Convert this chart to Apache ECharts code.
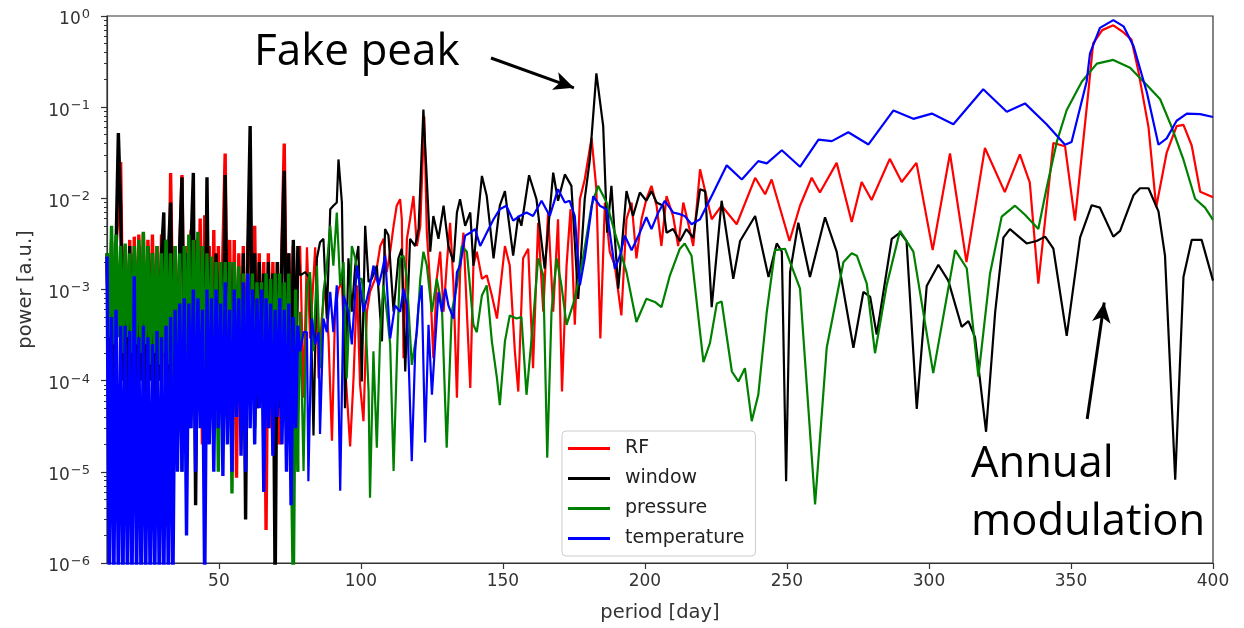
<!DOCTYPE html>
<html><head><meta charset="utf-8">
<script src="https://cdn.jsdelivr.net/npm/echarts@6.0.0/dist/echarts.min.js"></script>
<style>html,body{margin:0;padding:0;background:#fff}#chart{width:1244px;height:628px}</style>
</head><body><div id="chart"></div>
<script>
const seriesNames = ['RF', 'window', 'pressure', 'temperature'];
const seriesColors = ['#ff0000', '#000000', '#008000', '#0000ff'];
const xTicks = [50, 100, 150, 200, 250, 300, 350, 400];

// dense short-period part, shared periods (day)
const periodDense = [10.6, 11.4, 12.2, 13.0, 13.8, 14.6, 15.4, 16.2, 17.0, 17.8, 18.6, 19.4, 20.2, 21.0, 21.8, 22.6, 23.4, 24.2, 25.0, 25.8, 26.6, 27.4, 28.2, 29.0, 29.8, 30.6, 31.4, 32.2, 33.0, 33.8, 34.6, 35.4, 36.2, 37.0, 37.8, 38.6, 39.4, 40.2, 41.0, 41.8, 42.6, 43.4, 44.2, 45.0, 45.8, 46.6, 47.4, 48.2, 49.0, 49.8, 50.6, 51.4, 52.2, 53.0, 53.8, 54.6, 55.4, 56.2, 57.0, 57.8, 58.6, 59.4, 60.2, 61.0, 61.8, 62.6, 63.4, 64.2, 65.0, 65.8, 66.6, 67.4, 68.2, 69.0, 69.8, 70.6, 71.4, 72.2, 73.0, 73.8, 74.6, 75.4, 76.2, 77.0, 77.8];

const rfDense = [2.0e-3, 1.5e-4, 2.5e-3, 1.0e-4, 3.0e-3, 8.0e-3, 0.025, 2.0e-4, 3.0e-3, 1.2e-4, 3.5e-3, 2.5e-6, 3.8e-3, 1.5e-4, 4.0e-3, 2.0e-4, 4.2e-3, 1.0e-4, 3.5e-3, 2.0e-4, 4.0e-3, 1.5e-4, 3.0e-3, 1.2e-4, 4.0e-3, 2.0e-4, 3.5e-3, 1.5e-4, 0.019, 3.0e-4, 3.0e-3, 1.0e-4, 2.5e-3, 0.018, 2.0e-4, 3.0e-3, 1.5e-4, 4.5e-3, 2.0e-4, 3.5e-3, 1.0e-4, 6.0e-3, 2.0e-5, 6.5e-3, 1.5e-4, 3.0e-3, 4.0e-5, 4.5e-3, 3.0e-5, 3.0e-3, 6.0e-5, 2.5e-3, 0.031, 1.0e-4, 3.5e-3, 2.0e-5, 3.5e-3, 8.6e-6, 2.5e-3, 1.0e-4, 3.0e-3, 4.0e-5, 2.5e-3, 8.0e-3, 3.0e-4, 5.0e-3, 5.0e-5, 2.5e-3, 1.0e-4, 2.0e-3, 2.3e-6, 2.5e-3, 3.0e-5, 2.0e-3, 1.0e-4, 2.0e-3, 2.0e-5, 3.0e-3, 0.04, 3.0e-4, 2.5e-3, 5.0e-5, 3.0e-3, 1.0e-4, 2.5e-3];
const windowDense = [2.5e-3, 1.0e-4, 3.3e-3, 8.0e-5, 3.0e-3, 0.052, 8.0e-3, 1.0e-4, 2.5e-3, 5.0e-5, 3.0e-3, 1.0e-4, 2.5e-3, 6.0e-5, 3.0e-3, 1.0e-4, 2.0e-3, 5.0e-5, 3.0e-3, 1.0e-4, 2.5e-3, 4.0e-5, 2.0e-3, 1.0e-4, 2.5e-3, 7.0e-3, 6.0e-6, 2.5e-3, 9.0e-3, 1.0e-4, 2.0e-3, 5.0e-5, 3.0e-3, 0.017, 1.0e-4, 2.5e-3, 3.0e-5, 3.0e-3, 0.019, 4.3e-6, 2.5e-3, 1.0e-4, 3.0e-3, 5.0e-5, 0.017, 1.0e-4, 2.0e-3, 3.0e-5, 2.5e-3, 1.0e-4, 2.0e-3, 5.0e-5, 0.018, 2.0e-4, 2.0e-3, 3.0e-5, 2.0e-3, 1.0e-4, 1.5e-3, 3.0e-5, 2.5e-3, 3.0e-6, 3.0e-3, 0.062, 2.0e-4, 2.5e-3, 5.0e-5, 2.0e-3, 1.0e-4, 1.5e-3, 4.0e-5, 2.0e-3, 1.0e-4, 1.5e-3, 5.0e-7, 2.0e-3, 5.0e-5, 2.5e-3, 0.02, 1.0e-4, 2.5e-3, 3.0e-5, 3.5e-3, 1.0e-4, 3.0e-3];
const pressureDense = [2.5e-3, 3.0e-4, 5.0e-3, 2.5e-4, 4.0e-3, 3.0e-4, 3.0e-3, 2.0e-4, 3.2e-3, 3.0e-4, 2.5e-3, 2.0e-4, 3.0e-3, 2.5e-4, 3.5e-3, 2.0e-4, 4.3e-3, 2.5e-4, 3.0e-3, 1.5e-4, 2.5e-3, 2.0e-4, 3.0e-3, 1.5e-4, 2.5e-3, 2.0e-4, 3.5e-3, 1.5e-4, 2.5e-3, 1.0e-4, 3.0e-3, 8.0e-5, 2.5e-3, 1.0e-5, 3.0e-3, 1.5e-4, 4.0e-3, 5.0e-5, 3.5e-3, 2.0e-4, 4.3e-3, 1.0e-4, 3.0e-3, 4.0e-5, 2.5e-3, 1.0e-4, 2.3e-3, 3.0e-5, 2.0e-3, 1.0e-5, 2.0e-3, 1.0e-4, 2.0e-3, 5.0e-5, 2.0e-3, 5.8e-6, 2.0e-3, 1.0e-4, 1.8e-3, 3.0e-5, 1.5e-3, 4.0e-5, 1.5e-3, 1.0e-4, 1.5e-3, 3.0e-5, 1.2e-3, 1.0e-4, 1.2e-3, 2.0e-5, 1.5e-3, 1.0e-4, 1.3e-3, 4.0e-5, 1.5e-3, 1.0e-4, 1.5e-3, 5.0e-5, 1.2e-3, 1.0e-4, 1.5e-3, 3.0e-5, 5.0e-7, 1.0e-3, 1.0e-5];
const temperatureDense = [2.3e-3, 5.0e-7, 5.0e-4, 5.0e-7, 6.0e-4, 5.0e-7, 4.0e-4, 5.0e-7, 4.0e-4, 5.0e-7, 3.5e-4, 5.0e-7, 1.4e-3, 5.0e-7, 3.0e-4, 5.0e-7, 4.0e-4, 5.0e-7, 3.0e-4, 5.0e-7, 2.5e-4, 5.0e-7, 3.5e-4, 5.0e-7, 3.0e-4, 5.0e-7, 4.0e-4, 5.0e-7, 5.0e-4, 5.0e-7, 6.0e-4, 1.0e-5, 7.0e-4, 1.0e-5, 8.0e-4, 2.0e-6, 7.0e-4, 3.0e-5, 1.0e-3, 1.0e-5, 8.0e-4, 3.0e-5, 6.0e-4, 5.0e-7, 1.0e-3, 2.0e-5, 8.0e-4, 1.0e-5, 1.0e-3, 3.0e-5, 7.0e-4, 9.0e-6, 1.2e-3, 2.0e-5, 6.0e-4, 1.0e-5, 1.0e-3, 4.0e-5, 8.0e-4, 1.5e-5, 1.2e-3, 1.0e-5, 1.5e-3, 3.0e-5, 1.0e-3, 2.0e-5, 8.0e-4, 5.0e-5, 1.0e-3, 6.0e-6, 8.0e-4, 3.0e-5, 7.0e-4, 1.5e-5, 6.0e-4, 4.0e-5, 8.0e-4, 2.0e-5, 6.0e-4, 1.0e-5, 7.0e-4, 4.3e-6, 5.0e-4, 3.0e-5, 4.0e-4];

// longer-period part, each series with its own periods
const rfPeriods = [78.6, 79.8, 81.0, 82.1, 83.9, 85.1, 86.2, 87.4, 88.6, 89.8, 90.9, 92.1, 93.3, 94.4, 96.2, 97.4, 98.6, 99.7, 100.9, 102.1, 103.2, 105.0, 106.8, 108.0, 109.1, 110.3, 111.5, 112.6, 113.8, 114.4, 115.0, 116.2, 117.3, 118.5, 119.7, 120.9, 122.3, 123.2, 124.4, 125.5, 126.7, 127.9, 129.1, 130.2, 131.4, 132.6, 133.8, 134.9, 136.1, 137.3, 138.5, 139.6, 140.8, 142.6, 144.3, 146.1, 147.9, 150.7, 152.4, 154.2, 155.4, 157.1, 158.9, 160.6, 162.4, 164.2, 165.9, 167.7, 169.4, 170.8, 172.4, 173.8, 175.3, 177.1, 178.8, 181.2, 182.9, 184.3, 185.9, 187.6, 189.4, 191.7, 193.5, 195.3, 197.0, 198.8, 200.5, 202.3, 204.1, 205.8, 207.6, 209.9, 211.7, 213.5, 215.2, 217.0, 219.4, 223.5, 227.0, 232.3, 238.8, 242.3, 244.6, 250.9, 254.6, 258.7, 261.6, 267.5, 272.8, 276.3, 279.8, 286.2, 290.4, 295.6, 301.3, 307.4, 313.2, 319.7, 326.7, 332.0, 335.5, 338.5, 343.8, 347.9, 351.4, 356.1, 357.8, 361.0, 364.9, 368.5, 371.3, 373.7, 377.3, 380.0, 383.7, 387.2, 389.6, 392.5, 395.5, 400.0];
const rfValues = [3.0e-3, 6.5e-5, 2.9e-3, 2.9e-4, 2.9e-3, 1.06e-4, 4.8e-4, 1.11e-3, 2.9e-4, 2.2e-5, 5.7e-4, 1.02e-3, 1.21e-3, 1.49e-4, 1.9e-5, 1.06e-4, 1.11e-3, 9.0e-5, 3.6e-5, 5.7e-4, 9.4e-4, 1.31e-3, 3.0e-3, 3.6e-3, 1.55e-3, 2.6e-3, 5.0e-3, 8.3e-3, 9.8e-3, 5.9e-3, 1.76e-4, 3.6e-3, 5.9e-3, 0.0106, 3.0e-3, 5.0e-3, 0.079, 4.2e-3, 1.11e-3, 1.76e-4, 1.31e-3, 2.6e-3, 5.7e-4, 1.83e-3, 5.4e-3, 1.11e-3, 6.5e-5, 1.55e-3, 4.2e-3, 5.7e-4, 8.3e-5, 1.83e-3, 2.6e-3, 1.31e-3, 1.43e-3, 8.6e-4, 4.8e-4, 3.0e-3, 1.83e-3, 2.1e-4, 7.6e-5, 2.2e-3, 2.8e-3, 1.37e-4, 5.4e-3, 5.7e-4, 7.0e-3, 5.7e-4, 5.9e-3, 7.6e-5, 1.83e-3, 7.6e-3, 4.1e-4, 9.8e-3, 0.0161, 0.046, 0.0126, 2.9e-4, 9.0e-3, 2.6e-3, 1.83e-3, 5.2e-4, 5.9e-3, 9.0e-3, 2.2e-3, 5.9e-3, 9.8e-3, 0.0137, 8.3e-3, 3.0e-3, 0.0106, 6.4e-3, 3.0e-3, 9.0e-3, 5.4e-3, 3.0e-3, 0.0208, 5.9e-3, 8.3e-3, 5.2e-3, 0.0168, 0.0111, 0.0161, 3.4e-3, 8.3e-3, 0.0168, 0.0116, 0.0245, 5.5e-3, 0.0151, 9.6e-3, 0.0271, 0.0151, 0.0245, 2.7e-3, 0.031, 2.0e-3, 0.0357, 0.0117, 0.0303, 0.0149, 1.16e-3, 0.0405, 0.0373, 5.7e-3, 0.146, 0.50, 0.70, 0.79, 0.66, 0.55, 0.25, 0.06, 8.0e-3, 0.0318, 0.062, 0.064, 0.038, 0.0118, 0.0103];

const windowPeriods = [78.6, 80.4, 82.1, 83.3, 84.5, 85.6, 86.8, 88.0, 89.2, 90.3, 91.5, 92.1, 93.3, 94.4, 95.6, 96.8, 98.0, 99.1, 100.3, 101.5, 102.7, 103.8, 105.6, 107.4, 108.5, 109.7, 111.5, 113.2, 114.4, 115.6, 117.3, 119.1, 120.3, 122.0, 123.2, 124.4, 125.5, 127.3, 129.1, 130.8, 132.6, 133.8, 134.9, 136.7, 138.5, 139.6, 140.8, 142.6, 144.3, 146.7, 148.9, 150.7, 153.6, 155.4, 156.5, 159.2, 161.8, 164.7, 167.7, 169.4, 171.8, 174.1, 176.5, 178.8, 180.6, 182.9, 185.3, 186.7, 188.2, 190.6, 193.5, 195.8, 198.2, 200.5, 202.3, 204.1, 206.4, 207.6, 209.9, 212.3, 214.6, 217.0, 219.4, 221.2, 223.5, 227.0, 231.1, 233.5, 238.8, 243.5, 246.4, 248.2, 249.7, 251.1, 254.0, 258.1, 263.4, 267.5, 273.4, 276.9, 279.3, 281.6, 286.9, 289.8, 292.1, 295.7, 299.2, 303.3, 306.8, 311.5, 313.9, 316.2, 320.1, 323.3, 326.2, 328.5, 334.4, 337.9, 340.9, 343.8, 348.5, 353.2, 357.3, 360.2, 364.9, 367.3, 372.0, 374.3, 377.3, 380.8, 383.1, 386.7, 389.6, 392.5, 396.0, 400.0];
const windowValues = [1.43e-3, 1.55e-3, 1.31e-3, 2.5e-5, 2.2e-3, 3.3e-3, 3.6e-3, 4.8e-4, 7.6e-3, 8.3e-3, 9.0e-3, 0.0267, 9.0e-3, 5.0e-5, 2.2e-3, 5.7e-4, 1.83e-3, 3.0e-3, 9.8e-5, 5.0e-3, 1.21e-3, 1.31e-3, 1.83e-3, 2.7e-4, 4.6e-3, 3.9e-3, 5.7e-4, 2.2e-3, 2.8e-3, 1.26e-4, 3.6e-3, 3.0e-3, 4.6e-3, 0.094, 0.0161, 2.6e-3, 6.4e-3, 3.6e-3, 8.3e-3, 3.0e-3, 2.0e-3, 7.0e-3, 9.8e-3, 5.0e-3, 7.0e-3, 1.83e-3, 4.6e-3, 0.0176, 0.0106, 2.2e-3, 8.3e-3, 0.012, 2.35e-3, 6.4e-3, 5.0e-3, 0.0179, 9.8e-3, 1.69e-3, 0.0191, 9.4e-3, 0.0183, 0.0137, 7.9e-4, 9.8e-3, 0.0267, 0.235, 0.062, 4.2e-3, 0.0137, 1.02e-3, 0.012, 6.4e-3, 0.0116, 9.4e-3, 0.012, 9.0e-3, 8.3e-3, 4.2e-3, 4.6e-3, 3.4e-3, 4.6e-3, 3.7e-3, 0.0126, 0.012, 6.4e-4, 9.4e-3, 1.31e-3, 3.4e-3, 6.4e-3, 1.37e-3, 3.2e-3, 2.6e-3, 7.9e-6, 1.55e-3, 5.4e-3, 1.37e-3, 6.2e-3, 2.6e-3, 2.3e-4, 9.4e-4, 8.3e-4, 3.2e-4, 3.6e-3, 4.2e-3, 3.4e-3, 4.9e-5, 1.09e-3, 1.87e-3, 1.25e-3, 3.9e-4, 4.5e-4, 3.0e-4, 2.75e-5, 5.6e-4, 3.7e-3, 4.6e-3, 3.2e-3, 3.4e-3, 3.8e-3, 2.8e-3, 3.1e-4, 3.7e-3, 8.4e-3, 7.9e-3, 3.8e-3, 4.4e-3, 0.0108, 0.0129, 0.0129, 7.2e-3, 2.35e-3, 8.2e-6, 1.37e-3, 3.5e-3, 3.5e-3, 1.25e-3];

const pressurePeriods = [78.6, 79.8, 81.0, 82.1, 83.3, 84.5, 85.6, 86.8, 88.0, 89.2, 90.3, 91.5, 92.7, 93.9, 95.0, 96.2, 96.8, 98.0, 99.1, 100.3, 101.5, 102.7, 103.2, 104.4, 105.6, 106.8, 107.9, 109.1, 110.3, 111.5, 112.6, 113.8, 115.0, 116.2, 117.9, 119.7, 120.9, 122.0, 123.2, 125.0, 126.7, 128.5, 130.2, 132.0, 133.8, 135.5, 137.3, 139.6, 140.8, 142.6, 144.3, 146.1, 147.9, 148.9, 150.7, 152.4, 154.8, 156.5, 158.3, 160.6, 162.4, 164.2, 165.6, 167.1, 168.9, 170.6, 172.4, 175.3, 178.2, 181.2, 183.5, 186.5, 189.4, 193.5, 197.0, 200.5, 203.5, 205.8, 208.8, 212.3, 214.0, 216.4, 219.4, 220.6, 222.9, 225.3, 227.0, 230.6, 232.9, 235.2, 237.6, 239.9, 242.9, 245.8, 249.3, 254.6, 259.9, 264.0, 269.9, 272.8, 274.6, 278.1, 281.0, 285.1, 289.8, 294.5, 301.5, 309.2, 313.3, 317.4, 321.5, 325.6, 330.3, 333.8, 338.5, 341.4, 345.0, 348.5, 353.8, 359.1, 364.9, 370.8, 376.7, 381.4, 385.5, 389.6, 393.7, 397.2, 400.0];
const pressureValues = [5.7e-4, 1.02e-5, 1.11e-3, 1.55e-3, 2.1e-4, 1.83e-3, 1.37e-4, 9.4e-4, 1.83e-3, 5.0e-3, 1.83e-3, 7.0e-3, 1.11e-3, 2.0e-3, 1.06e-4, 8.6e-4, 3.0e-3, 2.2e-3, 1.31e-3, 1.31e-3, 5.7e-4, 7.6e-5, 5.2e-6, 2.1e-4, 1.84e-5, 3.4e-4, 1.11e-3, 5.7e-4, 2.5e-4, 1.02e-5, 1.49e-4, 2.2e-3, 2.35e-3, 1.31e-3, 1.49e-4, 3.4e-4, 1.31e-3, 2.6e-3, 1.83e-3, 5.7e-4, 1.31e-3, 6.7e-4, 1.84e-5, 5.7e-4, 1.11e-3, 3.0e-3, 2.6e-3, 4.1e-4, 3.4e-4, 8.6e-4, 1.11e-3, 2.7e-4, 1.06e-4, 5.4e-5, 2.7e-4, 5.2e-4, 4.8e-4, 5.0e-4, 7.0e-5, 4.4e-4, 2.2e-3, 1.43e-3, 1.43e-5, 5.7e-4, 2.2e-3, 1.11e-3, 4.1e-4, 7.9e-4, 2.2e-3, 8.3e-3, 0.0137, 9.0e-3, 4.2e-3, 1.55e-3, 4.4e-4, 7.9e-4, 7.3e-4, 6.4e-4, 1.43e-3, 2.8e-3, 3.2e-3, 2.35e-3, 3.4e-4, 1.6e-4, 2.6e-4, 7.0e-4, 7.4e-4, 1.26e-4, 9.8e-5, 1.37e-4, 3.6e-5, 7.0e-5, 5.7e-4, 2.7e-3, 2.8e-3, 1.02e-3, 4.4e-6, 2.3e-4, 2.0e-3, 2.5e-3, 2.35e-3, 1.16e-3, 2.0e-4, 1.11e-3, 4.4e-3, 2.6e-3, 1.21e-4, 2.7e-3, 1.71e-3, 1.11e-4, 1.5e-3, 6.3e-3, 8.3e-3, 6.6e-3, 4.6e-3, 0.0129, 0.0416, 0.093, 0.19, 0.30, 0.33, 0.27, 0.175, 0.122, 0.06, 0.0265, 9.9e-3, 7.9e-3, 5.8e-3];

const temperaturePeriods = [78.6, 79.8, 81.0, 81.5, 82.7, 83.9, 85.1, 85.6, 86.8, 88.0, 89.2, 90.3, 91.5, 92.7, 93.9, 95.6, 96.8, 98.6, 99.7, 100.9, 102.1, 103.2, 104.4, 106.2, 107.4, 108.5, 110.3, 112.0, 113.8, 115.0, 116.2, 117.9, 119.1, 120.3, 121.4, 122.6, 123.8, 125.0, 126.1, 127.3, 128.5, 129.7, 130.8, 132.6, 133.8, 134.9, 136.7, 138.5, 140.2, 142.0, 144.3, 146.7, 148.9, 151.2, 153.6, 155.9, 158.3, 160.6, 163.6, 166.5, 169.4, 171.8, 173.5, 175.3, 177.1, 178.8, 181.8, 184.1, 186.5, 189.4, 191.2, 192.9, 195.3, 198.2, 200.5, 202.3, 204.7, 207.0, 209.9, 212.3, 214.0, 216.4, 219.4, 224.1, 228.8, 234.1, 239.9, 242.9, 248.2, 254.6, 261.1, 265.8, 271.6, 278.7, 287.5, 294.5, 301.0, 308.6, 319.1, 327.4, 333.8, 341.4, 347.9, 350.2, 355.5, 356.7, 360.2, 364.9, 368.5, 372.0, 376.7, 380.8, 383.7, 387.2, 390.8, 395.5, 400.0];
const temperatureValues = [2.1e-4, 3.4e-4, 3.4e-4, 7.9e-6, 4.8e-4, 2.5e-4, 3.4e-4, 2.6e-5, 4.8e-4, 3.4e-4, 9.4e-4, 3.4e-4, 1.11e-3, 6.2e-6, 8.6e-4, 5.7e-4, 2.5e-4, 1.83e-3, 1.11e-3, 5.7e-4, 7.9e-4, 1.11e-3, 1.83e-3, 1.11e-3, 1.55e-3, 2.35e-3, 2.9e-4, 6.7e-4, 5.7e-4, 1.02e-3, 6.7e-4, 1.31e-5, 2.1e-4, 6.7e-4, 1.11e-3, 2.1e-5, 4.1e-4, 7.0e-5, 2.5e-4, 9.4e-4, 5.7e-4, 1.02e-3, 6.7e-4, 4.8e-4, 1.55e-3, 1.83e-3, 3.9e-3, 4.2e-3, 4.6e-3, 3.0e-3, 4.2e-3, 5.9e-3, 7.6e-3, 8.3e-3, 5.7e-3, 6.4e-3, 7.0e-3, 6.4e-3, 9.4e-3, 6.4e-3, 0.0126, 9.0e-3, 9.4e-3, 6.4e-3, 1.11e-3, 2.2e-3, 0.0106, 8.3e-3, 7.6e-3, 1.69e-3, 2.35e-3, 3.9e-3, 2.7e-3, 4.2e-3, 6.2e-3, 4.6e-3, 7.0e-3, 9.4e-3, 7.0e-3, 6.7e-3, 6.4e-3, 5.2e-3, 5.9e-3, 0.0116, 0.023, 0.0161, 0.0256, 0.0242, 0.0337, 0.0222, 0.044, 0.0424, 0.053, 0.039, 0.092, 0.0745, 0.085, 0.065, 0.157, 0.089, 0.11, 0.065, 0.0387, 0.0416, 0.19, 0.39, 0.74, 0.90, 0.77, 0.47, 0.146, 0.0387, 0.0455, 0.071, 0.085, 0.084, 0.078];

function pairs(ps, vs) { return ps.map(function (p, i) { return [p, vs[i]]; }); }
const denseData = [
  pairs(periodDense, rfDense), pairs(periodDense, windowDense),
  pairs(periodDense, pressureDense), pairs(periodDense, temperatureDense)
];
const restData = [
  pairs(rfPeriods, rfValues), pairs(windowPeriods, windowValues),
  pairs(pressurePeriods, pressureValues), pairs(temperaturePeriods, temperatureValues)
];

// minor tick positions on the log axis (exponent space): 2..9 x 10^n
const minorTicks = [];
for (let e = -6; e < 0; e++) for (let k = 2; k <= 9; k++) minorTicks.push(Math.log10(k) + e);

const FONT = 'DejaVu Sans';
const AX = '#333';
const chart = echarts.init(document.getElementById('chart'), null, { renderer: 'canvas' });

const series = [];
seriesNames.forEach(function (n, i) {
  const dense = denseData[i];
  // dense (heavily sampled) short-period part: drawn thicker, like the overlapping samples
  series.push({
    name: n, type: 'line', data: dense, showSymbol: false, symbol: 'none',
    color: seriesColors[i], lineStyle: { color: seriesColors[i], width: 3.4 },
    clip: true, animation: false, z: 2 + i, silent: true
  });
  series.push({
    name: n, type: 'line', data: [dense[dense.length - 1]].concat(restData[i]), showSymbol: false, symbol: 'none',
    color: seriesColors[i], lineStyle: { color: seriesColors[i], width: 2.2 },
    clip: true, animation: false, z: 2 + i, silent: true
  });
});
series[0].markLine = {
  silent: true, symbol: ['none', 'arrow'], symbolSize: [14, 20], animation: false,
  lineStyle: { color: '#000', width: 3, type: 'solid' }, label: { show: false },
  emphasis: { disabled: true },
  data: [
    [{ coord: [145.8, 0.346] }, { coord: [175.0, 0.163] }],
    [{ coord: [355.7, 3.8e-5] }, { coord: [361.7, 7.2e-4] }]
  ]
};

chart.setOption({
  animation: false,
  backgroundColor: '#fff',
  grid: { left: 107, right: 31, top: 16, bottom: 62, show: true, borderColor: AX, borderWidth: 1.2, backgroundColor: 'transparent' },
  xAxis: {
    type: 'value', min: 10.6, max: 400,
    axisLine: { show: true, onZero: false, lineStyle: { color: AX, width: 1.2 } },
    axisTick: { show: true, length: 6, customValues: xTicks, lineStyle: { color: AX, width: 1.2 } },
    axisLabel: { customValues: xTicks, margin: 10, color: '#333', fontFamily: FONT, fontSize: 17 },
    splitLine: { show: false },
    name: 'period [day]', nameLocation: 'middle', nameGap: 40,
    nameTextStyle: { fontFamily: FONT, fontSize: 19.5, color: '#333' }
  },
  yAxis: [{
    type: 'log', logBase: 10, min: 1e-6, max: 1, interval: 1,
    axisLine: { show: true, onZero: false, lineStyle: { color: AX, width: 1.2 } },
    axisTick: { show: true, length: 6, lineStyle: { color: AX, width: 1.2 } },
    axisLabel: {
      margin: 17, color: '#333', fontFamily: FONT, fontSize: 17,
      formatter: function (v) {
        const e = Math.round(Math.log10(v));
        return '{b|10}{s|' + (e < 0 ? '\u2212' + (-e) : String(e)) + '}';
      },
      rich: {
        b: { fontFamily: FONT, fontSize: 17, color: '#333', padding: [8, 0, 0, 0] },
        s: { fontFamily: FONT, fontSize: 13, color: '#333', padding: [0, 0, 3, 1] }
      }
    },
    splitLine: { show: false },
    name: 'power [a.u.]', nameLocation: 'middle', nameGap: 71,
    nameTextStyle: { fontFamily: FONT, fontSize: 19.5, color: '#333' }
  }, {
    type: 'value', min: -6, max: 0, position: 'left',
    axisLine: { show: false, onZero: false },
    axisLabel: { show: false },
    splitLine: { show: false },
    axisTick: { show: true, length: 3, customValues: minorTicks, lineStyle: { color: AX, width: 1 } }
  }],
  legend: {
    data: seriesNames, orient: 'vertical', left: 562, top: 431,
    icon: 'rect', itemWidth: 42, itemHeight: 3, itemGap: 11,
    padding: [8, 11, 8, 6], backgroundColor: 'rgba(255,255,255,0.8)',
    borderColor: '#cccccc', borderWidth: 1, borderRadius: 4,
    textStyle: { fontFamily: FONT, fontSize: 19, color: '#222', padding: [0, 0, 0, 10] },
    selectedMode: false
  },
  graphic: [
    { type: 'text', left: 254, top: 30, z: 100, style: { text: 'Fake peak', fontFamily: 'Open Sans', fontSize: 44, fill: '#000' } },
    { type: 'text', left: 971, top: 436, z: 100, style: { text: 'Annual\nmodulation', fontFamily: 'Open Sans', fontSize: 43.5, lineHeight: 58, fill: '#000' } }
  ],
  series: series
});
</script>
</body></html>
